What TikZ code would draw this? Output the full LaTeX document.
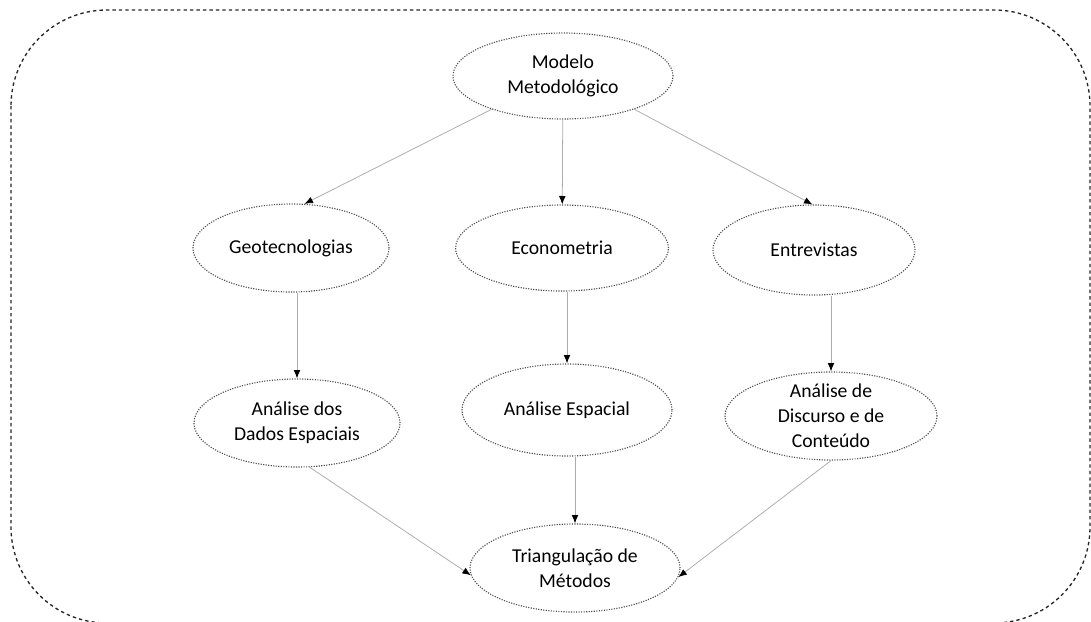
\documentclass[tikz,border=0pt]{standalone}
\usepackage{fontspec}
\setmainfont{Carlito}
\usetikzlibrary{shapes.geometric,arrows.meta}

\begin{document}
\begin{tikzpicture}[
        x=0.025cm, y=-0.025cm,
        elli/.style={ellipse, draw=black!70, densely dotted, line width=0.8pt, inner sep=0pt, align=center, text=black, font=\fontsize{14}{17.8}\selectfont},
        arr/.style={-{Latex[length=6pt, width=4.8pt, black]}, gray!65, line width=0.55pt},
        frame/.style={draw=black!85, dash pattern=on 2.4pt off 2.2pt, line width=0.95pt, rounded corners=2.4cm},
      ]

      \useasboundingbox (0,0) rectangle (1091,621);

      \draw[frame] (11,10) rectangle (1090,623);

      \node[elli, minimum width=5.5cm, minimum height=2.15cm] (modelo) at (563,76) {Modelo\\Metodológico};

      \node[elli, minimum width=4.9cm, minimum height=2.2cm] (geo) at (291,248) {Geotecnologias};
      \node[elli, minimum width=5.32cm, minimum height=2.15cm] (econ) at (562,248) {Econometria};
      \node[elli, minimum width=5.05cm, minimum height=2.25cm] (entrev) at (814,250) {Entrevistas};

      \node[elli, minimum width=5.15cm, minimum height=2.2cm] (dados) at (297,423) {Análise dos\\Dados Espaciais};
      \node[elli, minimum width=5.25cm, minimum height=2.3cm] (espacial) at (567,410) {Análise Espacial};
      \node[elli, minimum width=5.3cm, minimum height=2.2cm, inner ysep=-3pt] (discurso) at (831,416) {Análise de\\Discurso e de\\Conteúdo};

      \node[elli, minimum width=5.25cm, minimum height=2.2cm] (triang) at (575,568) {Triangulação de\\Métodos};

      \draw[arr] (modelo.205) -- (geo.73);
      \draw[arr] (modelo) -- (econ);
      \draw[arr] (modelo.335) -- (entrev.92);

      \draw[arr] (geo.south -| dados.north) -- (dados.north);
      \draw[arr] (econ.south -| espacial.north) -- (espacial.north);
      \draw[arr] (entrev.south -| discurso.north) -- (discurso.north);

      \draw[arr] (dados.286) -- (triang.184);
      \draw[arr] (espacial.south -| triang.north) -- (triang.north);
      \draw[arr] (discurso.south) -- (triang.355);

    \end{tikzpicture}
\end{document}
